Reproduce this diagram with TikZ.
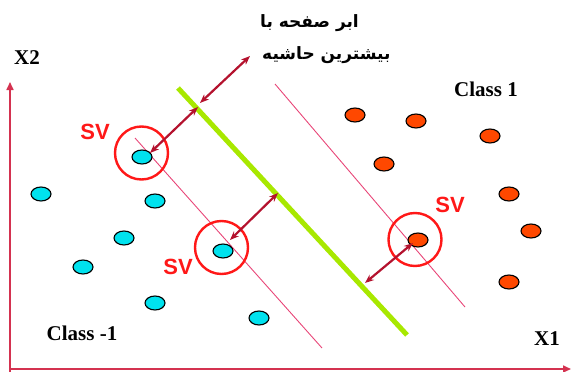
\documentclass[tikz,border=0pt]{standalone}
\usepackage{fontspec}
\usetikzlibrary{arrows.meta,shapes.geometric}
\newfontfamily\labelfont{Liberation Serif}
\newfontfamily\svfont{Liberation Sans}
\newfontfamily\arabicfont[Script=Arabic]{DejaVu Sans}
\TeXXeTstate=1
\definecolor{axiscol}{RGB}{212,50,80}
\definecolor{cyanpt}{RGB}{0,226,238}
\definecolor{orangept}{RGB}{255,72,0}
\definecolor{svred}{RGB}{255,24,24}
\definecolor{hypgreen}{RGB}{168,232,0}
\definecolor{margpink}{RGB}{232,70,120}
\definecolor{arrowred}{RGB}{180,18,46}
\tikzset{
  pt/.style={ellipse,draw=black,line width=1.1pt,minimum width=20pt,minimum height=14pt,inner sep=0pt},
  negpt/.style={pt,fill=cyanpt},
  pospt/.style={pt,fill=orangept},
  svring/.style={circle,draw=svred,line width=2.4pt,minimum size=53pt,inner sep=0pt},
  svtext/.style={text=svred,font=\svfont\bfseries\fontsize{22}{24}\selectfont},
  axislbl/.style={font=\labelfont\bfseries\fontsize{21}{24}\selectfont},
  axisline/.style={draw=axiscol,line width=1.6pt,-{Triangle[length=8pt,width=7pt]}},
  marginline/.style={draw=margpink,line width=0.9pt},
  hyperplane/.style={draw=hypgreen,line width=5pt},
  gap/.style={draw=arrowred,line width=2.2pt,{Stealth[length=9pt,width=7pt]}-{Stealth[length=9pt,width=7pt]}},
  fatext/.style={font=\arabicfont\bfseries\fontsize{17}{20}\selectfont,anchor=west,inner sep=0pt}
}
\begin{document}
\begin{tikzpicture}[x=1pt,y=-1pt]
\useasboundingbox (0,0) rectangle (571,372);

% axes
\coordinate (origin) at (10,369);
\coordinate (ytop) at (10,82);
\coordinate (xend) at (571,369);
\draw[axisline] (10,372) -- (ytop);
\draw[axisline] (origin) -- (xend);
\node[axislbl] (lx2) at (27,58) {X2};
\node[axislbl] (lx1) at (547,339) {X1};
\node[axislbl] (lc1) at (486,89) {Class 1};
\node[axislbl] (lcm1) at (82,333) {Class -1};

% margin boundaries and separating hyperplane
\coordinate (ma) at (135,138);
\coordinate (mb) at (322,348);
\coordinate (mc) at (275,84);
\coordinate (md) at (465,307);
\coordinate (ha) at (178,88);
\coordinate (hb) at (407,335);
\draw[marginline] (ma) -- (mb);
\draw[marginline] (mc) -- (md);
\draw[hyperplane] (ha) -- (hb);

% class -1 samples
\node[negpt] (n1) at (142,157) {};
\node[negpt] (n2) at (41,194) {};
\node[negpt] (n3) at (155,201) {};
\node[negpt] (n4) at (124,238) {};
\node[negpt] (n5) at (223,251) {};
\node[negpt] (n6) at (83,267) {};
\node[negpt] (n7) at (155,303) {};
\node[negpt] (n8) at (259,318) {};

% class 1 samples
\node[pospt] (c1) at (355,115) {};
\node[pospt] (c2) at (416,121) {};
\node[pospt] (c3) at (490,136) {};
\node[pospt] (c4) at (384,164) {};
\node[pospt] (c5) at (509,194) {};
\node[pospt] (c6) at (531,231) {};
\node[pospt] (c7) at (418,240) {};
\node[pospt] (c8) at (509,282) {};

% support vectors
\node[svring] (s1) at (141.5,153) {};
\node[svring] (s2) at (221.5,247.5) {};
\node[svring] (s3) at (415,239.5) {};
\node[svtext] (t1) at (95,132) {SV};
\node[svtext] (t2) at (178,267) {SV};
\node[svtext] (t3) at (450,205) {SV};

% margin distance arrows
\coordinate (g1a) at (150,153);
\coordinate (g1b) at (198,107);
\coordinate (g2a) at (200,103);
\coordinate (g2b) at (250,56);
\coordinate (g3a) at (230,240);
\coordinate (g3b) at (278,193);
\coordinate (g4a) at (413,243);
\coordinate (g4b) at (365,283);
\draw[gap] (g1a) -- (g1b);
\draw[gap] (g2a) -- (g2b);
\draw[gap] (g3a) -- (g3b);
\draw[gap] (g4a) -- (g4b);

% caption
\node[fatext] (cap1) at (260,23) {\beginR ابر صفحه با\endR};
\node[fatext] (cap2) at (262,55) {\beginR بیشترین حاشیه\endR};
\end{tikzpicture}
\end{document}
